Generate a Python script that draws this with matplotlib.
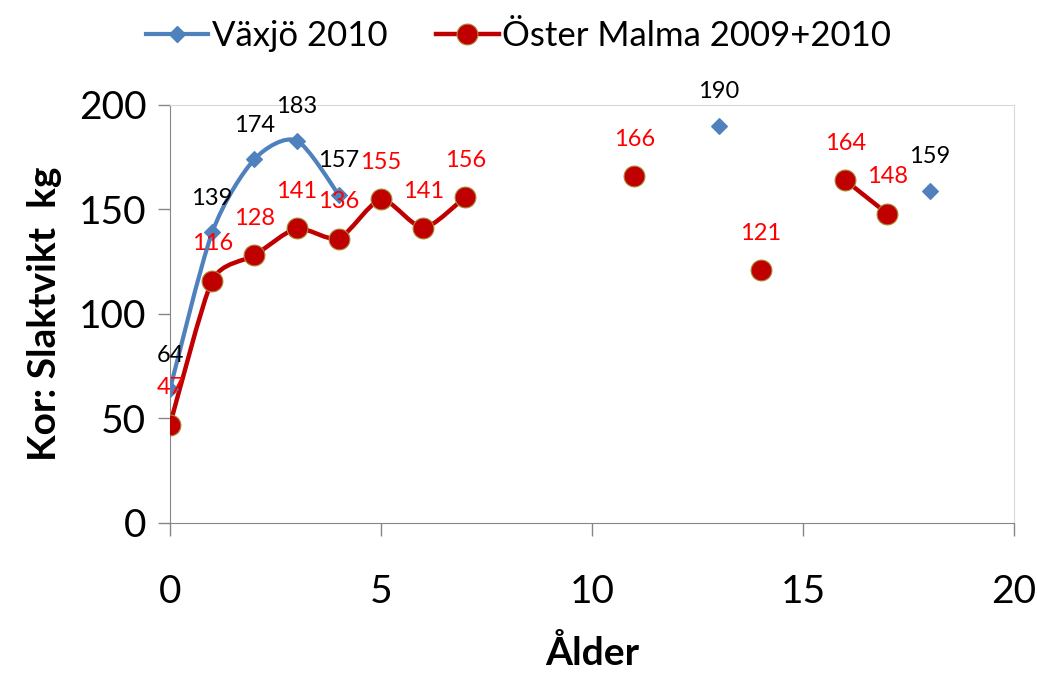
import matplotlib
matplotlib.use("Agg")
import matplotlib.pyplot as plt
import numpy as np
from matplotlib.path import Path
from matplotlib.patches import PathPatch
from matplotlib.lines import Line2D

plt.rcParams['font.family'] = ['Lato', 'DejaVu Sans']

# data
vaxjo_age = [0, 1, 2, 3, 4, 13, 18]
vaxjo_kg = [64, 139, 174, 183, 157, 190, 159]
vaxjo_runs = [[0, 1, 2, 3, 4], [5], [6]]

oster_age = [0, 1, 2, 3, 4, 5, 6, 7, 11, 14, 16, 17]
oster_kg = [47, 116, 128, 141, 136, 155, 141, 156, 166, 121, 164, 148]
oster_runs = [[0, 1, 2, 3, 4, 5, 6, 7], [8], [9], [10, 11]]

blue = '#4F81BD'
red = '#C00000'


def smooth_path(xs, ys, k=6):
    # Excel-like smoothed line: Catmull-Rom turned into cubic Bezier pieces
    p = np.column_stack([xs, ys]).astype(float)
    verts = [p[0]]
    codes = [Path.MOVETO]
    n = len(p)
    for i in range(n - 1):
        p0 = p[i - 1] if i > 0 else p[i]
        p3 = p[i + 2] if i + 2 < n else p[i + 1]
        c1 = p[i] + (p[i + 1] - p0) / k
        c2 = p[i + 1] - (p3 - p[i]) / k
        verts += [c1, c2, p[i + 1]]
        codes += [Path.CURVE4] * 3
    return Path(verts, codes)


fig = plt.figure(figsize=(10.37, 6.73), dpi=100)
ax = fig.add_axes([0.1639, 0.2229, 0.8139, 0.6211])


def draw_series(ages, vals, runs, color, lw, marker, ms, mec, lcolor, dy, k):
    for run in runs:
        if len(run) > 1:
            path = smooth_path([ages[i] for i in run], [vals[i] for i in run], k)
            ax.add_patch(PathPatch(path, facecolor='none', edgecolor=color,
                                   lw=lw, zorder=3, capstyle='round'))
    ax.plot(ages, vals, ls='none', marker=marker, ms=ms, color=color,
            mec=mec, mew=0.8, zorder=4)
    for a, v in zip(ages, vals):
        ax.annotate(str(v), (a, v), xytext=(0, dy), textcoords='offset points',
                    ha='center', va='center', fontsize=17, color=lcolor, zorder=5)


draw_series(vaxjo_age, vaxjo_kg, vaxjo_runs, blue, 3, 'D', 8.5, blue, 'black', 24.5, 7.5)
draw_series(oster_age, oster_kg, oster_runs, red, 3.2, 'o', 15, '#A88A3A', '#FF0000', 26.5, 9)

ax.set_xlim(0, 20)
ax.set_ylim(0, 200)
ax.set_xticks([0, 5, 10, 15, 20])
ax.set_yticks([0, 50, 100, 150, 200])
ax.tick_params(axis='both', direction='out', length=9, width=1, color='#868686',
               labelsize=28)
ax.tick_params(axis='x', pad=28)
ax.tick_params(axis='y', pad=8)
for side in ['left', 'bottom']:
    ax.spines[side].set_color('#868686')
for side in ['top', 'right']:
    ax.spines[side].set_color('#D9D9D9')

ax.set_ylabel('Kor: Slaktvikt  kg', fontsize=28, fontweight='bold', labelpad=12)
ax.set_xlabel('Ålder', fontsize=28, fontweight='bold', labelpad=18)

handles = [
    Line2D([], [], color=blue, lw=3, marker='D', ms=8.5),
    Line2D([], [], color=red, lw=3.2, marker='o', ms=15, mec='#A88A3A', mew=0.8),
]
fig.legend(handles, ['Växjö 2010', 'Öster Malma 2009+2010'], loc='center',
           bbox_to_anchor=(0.5, 0.946), ncol=2, frameon=False, fontsize=25,
           handlelength=1.8, handletextpad=0.1, columnspacing=1.4)

fig.savefig('out.png', dpi=100)
